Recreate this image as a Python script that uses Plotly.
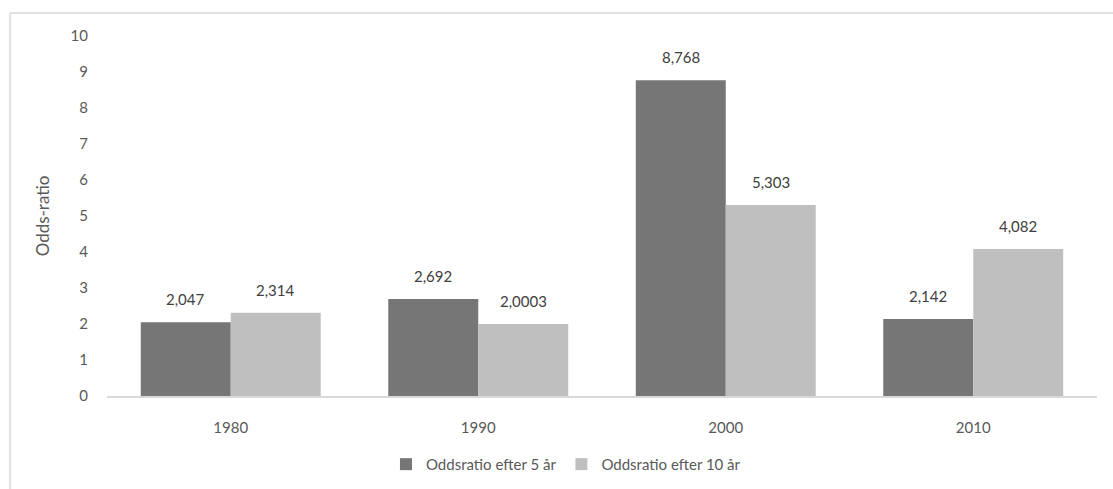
import plotly.graph_objects as go

categories = ["1980", "1990", "2000", "2010"]
series_names = ["Oddsratio efter 5 år", "Oddsratio efter 10 år"]
values_5 = [2.047, 2.692, 8.768, 2.142]
values_10 = [2.314, 2.0003, 5.303, 4.082]
labels_5 = ["2,047", "2,692", "8,768", "2,142"]
labels_10 = ["2,314", "2,0003", "5,303", "4,082"]
y_ticks = list(range(0, 11))

FONT = "Lato, 'Open Sans', sans-serif"
fig = go.Figure()
fig.add_trace(go.Bar(x=categories, y=values_5, name=series_names[0], marker_color="#767676",
                     marker_line_width=0, offsetgroup="a"))
fig.add_trace(go.Bar(x=categories, y=values_10, name=series_names[1], marker_color="#bfbfbf",
                     marker_line_width=0, offsetgroup="b"))

# data labels placed above each bar via the axis scales
bar_w = 0.3636  # half-group offset in category units
annotations = []
for i, c in enumerate(categories):
    for off, v, t in ((-bar_w / 2, values_5[i], labels_5[i]), (bar_w / 2, values_10[i], labels_10[i])):
        annotations.append(dict(x=i + off, y=v, xref="x", yref="y", text=t, showarrow=False,
                                yanchor="bottom", yshift=12,
                                font=dict(size=15, color="#404040", family=FONT)))

fig.update_layout(
    width=1113, height=489,
    margin=dict(l=107, r=16, t=36, b=93, autoexpand=False),
    paper_bgcolor="white", plot_bgcolor="white",
    barmode="group", bargap=0.273, bargroupgap=0,
    font=dict(family=FONT, color="#595959", size=15),
    showlegend=True,
    legend=dict(orientation="h", x=0.4636, xanchor="center", y=-0.19, yanchor="middle",
                font=dict(size=15, color="#595959"), itemwidth=30, traceorder="normal"),
    xaxis=dict(type="category", showline=True, linecolor="#d9d9d9", linewidth=1.5, showgrid=False, ticks="",
               ticklabelstandoff=17, tickfont=dict(size=15, color="#595959")),
    yaxis=dict(range=[0, 10], tickvals=y_ticks, showgrid=False, zeroline=False, showline=False,
               ticks="", ticklabelstandoff=18, tickfont=dict(size=15, color="#595959"),
               title=dict(text="Odds-ratio", standoff=16, font=dict(size=17, color="#595959"))),
    annotations=annotations,
    shapes=[
        dict(type="line", xref="paper", yref="paper", x0=-0.098, x1=1.02, y0=1.0639, y1=1.0639,
             line=dict(color="#d9d9d9", width=1.5)),
        dict(type="line", xref="paper", yref="paper", x0=-0.098, x1=-0.098, y0=1.0639, y1=-0.3,
             line=dict(color="#d9d9d9", width=1.5)),
    ],
)

fig.write_html("out.html")
